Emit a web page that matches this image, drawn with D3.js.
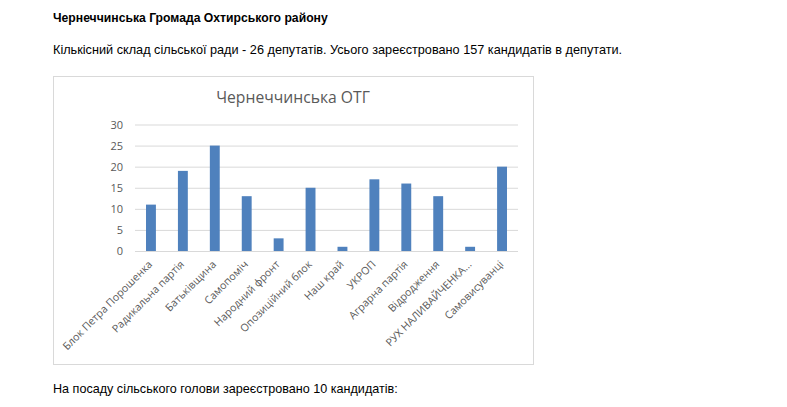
<!DOCTYPE html>
<html>
<head>
<meta charset="utf-8">
<script src="https://cdn.jsdelivr.net/npm/d3@7"></script>
<style>
  body { margin: 0; background: #fff; }
  svg text { font-family: "Liberation Sans", Arial, sans-serif; }
</style>
</head>
<body>
<script>
"use strict";
const parties = ["Блок Петра Порошенка", "Радикальна партія", "Батьківщина", "Самопоміч",
    "Народний фронт", "Опозиційний блок", "Наш край", "УКРОП", "Аграрна партія",
    "Відродження", "РУХ НАЛИВАЙЧЕНКА...", "Самовисуванці"];
const candidates = [11, 19, 25, 13, 3, 15, 1, 17, 16, 13, 1, 20];
const yTicks = [0, 5, 10, 15, 20, 25, 30];
const chartTitle = "Чернеччинська ОТГ";
const heading = "Чернеччинська Громада Охтирського району";
const intro = "Кількісний склад сільської ради - 26 депутатів. Усього зареєстровано 157 кандидатів в депутати.";
const outro = "На посаду сільського голови зареєстровано 10 кандидатів:";

const width = 787;
const height = 407;

const svg = d3.select("body")
    .append("svg")
    .attr("width", width)
    .attr("height", height);

// page text
svg.append("text")
    .attr("x", 53).attr("y", 22)
    .attr("font-size", 12.2).attr("font-weight", "bold")
    .text(heading);

svg.append("text")
    .attr("x", 53).attr("y", 54)
    .attr("font-size", 12.7)
    .text(intro);

svg.append("text")
    .attr("x", 53).attr("y", 393)
    .attr("font-size", 12.6)
    .text(outro);

// chart frame
svg.append("rect")
    .attr("x", 53.5).attr("y", 76.5)
    .attr("width", 480).attr("height", 288)
    .attr("fill", "#fff")
    .attr("stroke", "#d9d9d9");

svg.append("text")
    .attr("x", 293).attr("y", 103)
    .attr("text-anchor", "middle")
    .attr("font-size", 15.7)
    .attr("fill", "#595959")
    .style("font-family", "'Open Sans', sans-serif")
    .text(chartTitle);

const plot = { left: 135, right: 518, top: 124.5, bottom: 251 };

const x = d3.scaleBand()
    .domain(parties)
    .range([plot.left, plot.right])
    .paddingInner(0.69)
    .paddingOuter(0.345);

const y = d3.scaleLinear()
    .domain([0, 30])
    .range([plot.bottom, plot.top]);

// gridlines + value ticks
svg.append("g")
    .attr("transform", `translate(${plot.left},0)`)
    .call(d3.axisLeft(y).tickValues(yTicks).tickSize(-(plot.right - plot.left)).tickPadding(12))
    .call(g => g.select(".domain").remove())
    .call(g => g.selectAll(".tick line").attr("stroke", "#d9d9d9"))
    .call(g => g.selectAll(".tick text")
        .attr("fill", "#595959")
        .attr("font-size", 11)
        .style("font-family", "'Open Sans', sans-serif"));

// bars
svg.append("g")
    .selectAll("rect")
    .data(candidates)
    .join("rect")
    .attr("x", (d, i) => x(parties[i]))
    .attr("y", d => y(d))
    .attr("width", x.bandwidth())
    .attr("height", d => y(0) - y(d))
    .attr("fill", "#4f81bd");

// category labels
svg.append("g")
    .attr("transform", `translate(0,${plot.bottom})`)
    .call(d3.axisBottom(x).tickSize(0).tickPadding(0))
    .call(g => g.select(".domain").remove())
    .call(g => g.selectAll(".tick text")
        .attr("fill", "#595959")
        .attr("font-size", 10.6)
        .style("font-family", "'Open Sans', sans-serif")
        .attr("text-anchor", "end")
        .attr("dy", 0)
        .attr("transform", "translate(2,14) rotate(-45)"));
</script>
</body>
</html>
